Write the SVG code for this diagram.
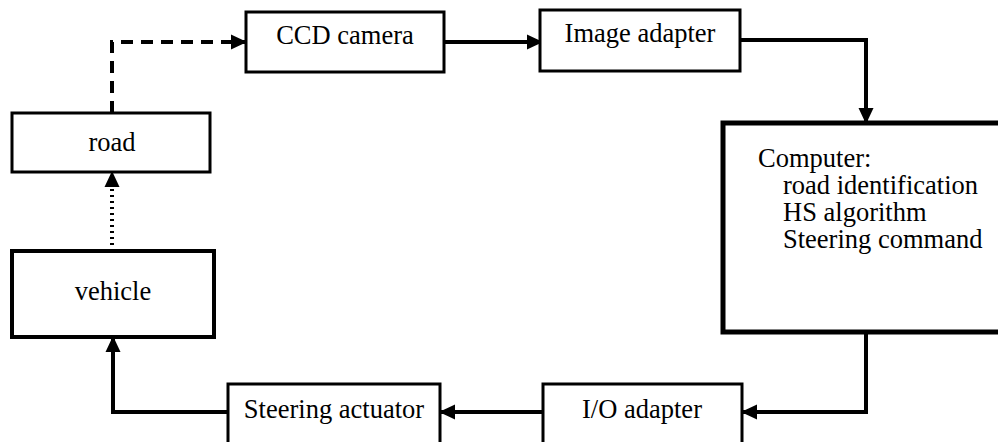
<svg xmlns="http://www.w3.org/2000/svg" width="998" height="442" viewBox="0 0 998 442">
<defs>
<marker id="ahs" markerWidth="16" markerHeight="16" refX="15" refY="8" orient="auto" markerUnits="userSpaceOnUse"><path d="M0,0.5 L16,8 L0,15.5 z" fill="#000"/></marker>
<style>
.box{fill:#fff;stroke:#000;stroke-width:3}
.t{font-size:26.5px;fill:#000}
.c{text-anchor:middle}
.ln{fill:none;stroke:#000;stroke-width:4}
</style>
</defs>
<rect width="998" height="442" fill="#fff"/>
<g id="connectors">
<path class="ln" d="M112,113 V42 H246" stroke-width="3" stroke-dasharray="12,8" marker-end="url(#ahs)"/>
<path class="ln" d="M444,42 H542" marker-end="url(#ahs)"/>
<path class="ln" d="M740,40 H866 V123" marker-end="url(#ahs)"/>
<path class="ln" d="M866,332 V412 H742" marker-end="url(#ahs)"/>
<path class="ln" d="M543,412 H440" marker-end="url(#ahs)"/>
<path class="ln" d="M228,412 H113 V337" marker-end="url(#ahs)"/>
<path class="ln" d="M112,251 V172" stroke-width="3" stroke-dasharray="2,4" marker-end="url(#ahs)"/>
</g>
<g font-family="'Liberation Serif', 'Times New Roman', 'DejaVu Serif', serif">
<g id="ccd"><rect class="box" x="246" y="12" width="198" height="60"/><text class="t c" x="345" y="44">CCD camera</text></g>
<g id="imgadapter"><rect class="box" x="540" y="10" width="200" height="61"/><text class="t c" x="640" y="42">Image adapter</text></g>
<g id="computer"><rect class="box" x="723" y="123" width="285" height="209" style="stroke-width:5"/>
<text class="t" x="758" y="167">Computer:</text>
<text class="t" x="783" y="194">road identification</text>
<text class="t" x="783" y="221">HS algorithm</text>
<text class="t" x="783" y="248">Steering command</text></g>
<g id="road"><rect class="box" x="12" y="113" width="198" height="59"/><text class="t c" x="112" y="151">road</text></g>
<g id="vehicle"><rect class="box" x="12" y="251" width="202" height="86" style="stroke-width:4"/><text class="t c" x="113" y="300">vehicle</text></g>
<g id="actuator"><rect class="box" x="228" y="384" width="212" height="60"/><text class="t c" x="334" y="418">Steering actuator</text></g>
<g id="ioadapter"><rect class="box" x="543" y="384" width="199" height="60"/><text class="t c" x="642" y="418">I/O adapter</text></g>
</g>
</svg>
